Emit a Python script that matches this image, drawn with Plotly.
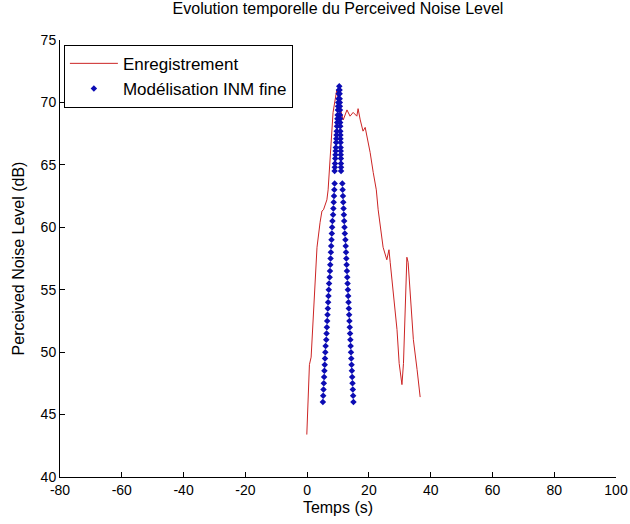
import plotly.graph_objects as go

# Enregistrement (measured)
t_rec = [-0.1, 0.1, 0.4, 0.75, 1.3, 1.7, 2.2, 2.8, 3.2, 4.2, 4.8, 5.3, 6.4, 6.8,
         7.8, 8.4, 9.6, 10.4, 11.7, 12.9, 13.9, 14.9, 16.1, 16.5, 17.2, 18.1,
         18.8, 19.4, 20.4, 21.4, 22.4, 23.0, 24.2, 24.6, 25.8, 26.5, 26.9, 28.0,
         29.1, 29.8, 30.7, 31.2, 31.8, 32.3, 32.7, 33.4, 34.4, 35.6, 36.6]
pnl_rec = [43.4, 44.7, 47.2, 49.0, 49.6, 51.4, 53.4, 55.8, 58.4, 60.4, 61.3, 61.4,
           62.2, 63.0, 66.5, 69.2, 71.0, 69.8, 68.6, 69.4, 68.9, 69.2, 68.9, 69.5,
           68.6, 67.7, 68.0, 67.3, 66.0, 64.4, 63.0, 61.4, 59.2, 58.4, 57.4, 58.2,
           57.2, 54.4, 51.8, 49.1, 47.4, 49.1, 54.4, 57.6, 57.2, 54.4, 51.0, 48.6, 46.4]

# Modelisation INM fine (model) - lower part levels
lvl_low = [46.0, 46.5, 47.0, 47.5, 48.0, 48.5, 49.0, 49.5, 50.0, 50.5, 51.0, 51.5,
           52.0, 52.5, 53.0, 53.5, 54.0, 54.5, 55.0, 55.5, 56.0, 56.5, 57.0, 57.5,
           58.0, 58.5, 59.0, 59.5, 60.0, 60.5, 61.0, 61.5, 62.0, 62.5, 63.0, 63.5]
t_low_left = [5.1, 5.2, 5.3, 5.4, 5.5, 5.6, 5.7, 5.8, 5.9, 6.0, 6.2, 6.3, 6.4, 6.5,
              6.6, 6.7, 6.8, 6.9, 7.0, 7.1, 7.3, 7.4, 7.5, 7.6, 7.7, 7.8, 7.9, 8.0,
              8.1, 8.2, 8.4, 8.5, 8.6, 8.7, 8.8, 8.9]
t_low_right = [15.0, 14.9, 14.8, 14.7, 14.6, 14.5, 14.4, 14.3, 14.2, 14.1, 14.0, 13.9,
               13.8, 13.7, 13.6, 13.5, 13.4, 13.3, 13.2, 13.1, 13.0, 12.9, 12.8, 12.7,
               12.6, 12.5, 12.4, 12.2, 12.1, 12.0, 11.9, 11.8, 11.7, 11.6, 11.5, 11.4]
# upper part levels
lvl_up = [64.5, 64.8, 65.1, 65.5, 65.8, 66.1, 66.4, 66.8, 67.1, 67.4, 67.7, 68.1,
          68.4, 68.7, 69.0, 69.4, 69.7, 70.0, 70.3, 70.7, 71.0]
t_up_left = [8.90, 8.97, 9.04, 9.11, 9.18, 9.25, 9.32, 9.39, 9.46, 9.53, 9.60, 9.67,
             9.74, 9.81, 9.88, 9.95, 10.02, 10.09, 10.16, 10.23, 10.30]
t_up_right = [11.0, 10.98, 10.95, 10.93, 10.9, 10.88, 10.85, 10.83, 10.8, 10.78,
              10.75, 10.73, 10.7, 10.68, 10.65, 10.63, 10.6, 10.58, 10.55, 10.53, 10.5]
t_peak = [10.4]
lvl_peak = [71.3]

x_ticks = [-80, -60, -40, -20, 0, 20, 40, 60, 80, 100]
y_ticks = [40, 45, 50, 55, 60, 65, 70, 75]

t_mod = t_low_left + t_up_left + t_peak + t_up_right[::-1] + t_low_right[::-1]
pnl_mod = lvl_low + lvl_up + lvl_peak + lvl_up[::-1] + lvl_low[::-1]

font = "Liberation Sans, Arial, sans-serif"

fig = go.Figure()
fig.add_trace(go.Scatter(x=t_rec, y=pnl_rec, mode="lines", name="Enregistrement",
                         legendgroup="a",
                         line=dict(color="#cc2424", width=1)))
fig.add_trace(go.Scatter(x=t_mod, y=pnl_mod, mode="markers", name="Modélisation INM fine",
                         legendgroup="b",
                         marker=dict(symbol="diamond", size=5, color="#0c0cb4",
                                     line=dict(width=0))))

axis_common = dict(showline=True, linecolor="black", linewidth=1, ticks="inside",
                   ticklen=5, tickcolor="black", showgrid=False, zeroline=False,
                   mirror=False, automargin=False,
                   tickfont=dict(size=14, color="black", family=font))

fig.update_layout(
    width=630, height=524,
    margin=dict(l=60, r=14, t=40, b=47),
    paper_bgcolor="white", plot_bgcolor="white",
    font=dict(family=font, size=14, color="black"),
    title=dict(text="Evolution temporelle du Perceived Noise Level", x=0.5,
               xref="paper", y=0.995, yanchor="top", pad=dict(t=0, b=0),
               font=dict(size=16, family=font, color="black")),
    xaxis=dict(range=[-80, 100], tickvals=x_ticks, ticktext=[str(v) for v in x_ticks],
               title=dict(text="Temps (s)", standoff=5, font=dict(size=16)),
               **axis_common),
    yaxis=dict(range=[40, 75], tickvals=y_ticks, ticktext=[str(v) for v in y_ticks],
               title=dict(text="Perceived Noise Level (dB)", standoff=12, font=dict(size=16)),
               **axis_common),
    legend=dict(x=0.007, y=0.989, xanchor="left", yanchor="top", bgcolor="white",
                bordercolor="black", borderwidth=1, font=dict(size=17, family=font),
                tracegroupgap=0, itemwidth=48),
    showlegend=True,
)

fig.write_html("out.html", config={"displayModeBar": False},
               post_script="document.body.style.margin='0';document.body.style.overflow='hidden';")
